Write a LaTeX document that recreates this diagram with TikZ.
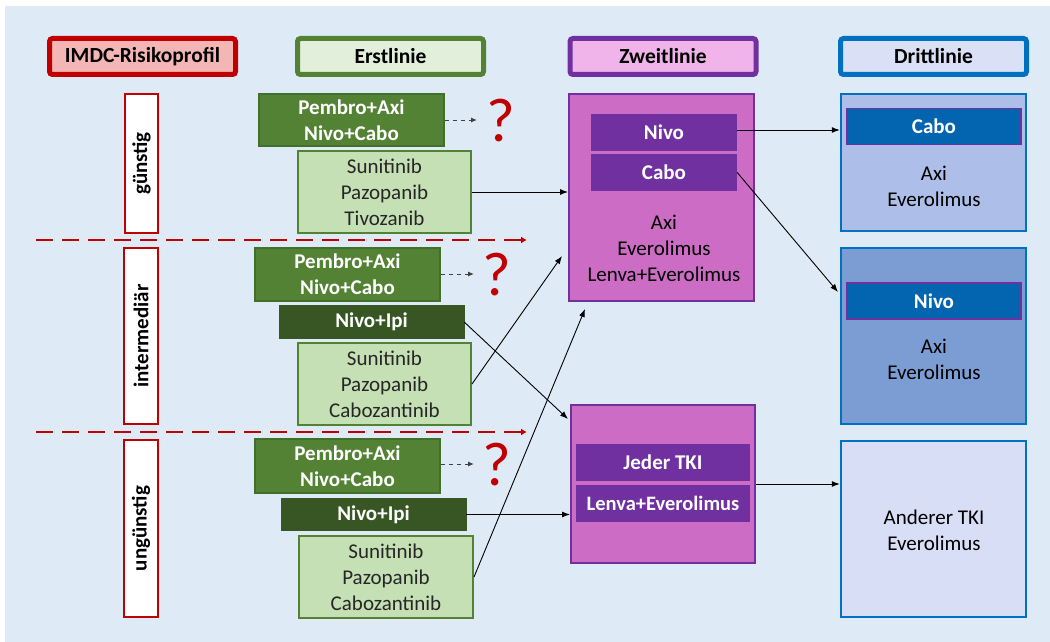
\documentclass[tikz,border=0pt]{standalone}
\usepackage{fontspec}
\setmainfont{Carlito}
\usetikzlibrary{arrows.meta}
\definecolor{bgc}{HTML}{DEEBF7}
\definecolor{rred}{HTML}{C00000}
\definecolor{rpink}{HTML}{F4B6B4}
\definecolor{gmid}{HTML}{548235}
\definecolor{gbord}{HTML}{41702A}
\definecolor{gdark}{HTML}{375623}
\definecolor{glight}{HTML}{C5E0B4}
\definecolor{gpale}{HTML}{E2EFDA}
\definecolor{purp}{HTML}{7030A0}
\definecolor{ppale}{HTML}{F0B3EA}
\definecolor{porch}{HTML}{CC6CC4}
\definecolor{blu}{HTML}{0070C0}
\definecolor{bbord}{HTML}{2E75B6}
\definecolor{bpale}{HTML}{DAE0F6}
\definecolor{bl1}{HTML}{ADBFE8}
\definecolor{bl2}{HTML}{7C9DD3}
\definecolor{bl3}{HTML}{D8DEF6}
\definecolor{binner}{HTML}{0365B0}
\definecolor{txt}{HTML}{262626}
\begin{document}
\begin{tikzpicture}[x=1pt,y=-1pt,
  base/.style={inner sep=0pt, align=center, font=\fontsize{21}{26}\selectfont},
  hdr/.style={base, rounded corners=3pt, line width=5pt, minimum width=186pt, minimum height=36pt, font=\bfseries\fontsize{21.5}{24}\selectfont},
  risk/.style={draw=rred, line width=1.6pt, fill=white},
  risktxt/.style={base, rotate=90, font=\bfseries\fontsize{21}{24}\selectfont},
  dkbox/.style={base, draw=gbord, line width=2pt, fill=gmid, text=white, minimum width=185pt, font=\bfseries\fontsize{21}{26}\selectfont},
  ipibox/.style={base, draw=gdark, fill=gdark, text=white, minimum width=185pt, font=\bfseries\fontsize{21}{26}\selectfont},
  ltbox/.style={base, draw=gmid, line width=2pt, fill=glight, text=txt, minimum width=173pt, minimum height=82pt},
  zbox/.style={base, draw=purp, line width=2pt, fill=porch},
  zin/.style={base, fill=purp, text=white, font=\bfseries\fontsize{21}{26}\selectfont, minimum height=37pt},
  dbox/.style={base, draw=blu, line width=2.5pt, minimum width=185pt},
  din/.style={base, draw=purp, line width=1.5pt, fill=binner, text=white, minimum width=174pt, minimum height=36pt, font=\bfseries\fontsize{21}{26}\selectfont},
  conn/.style={draw=black, line width=0.9pt, -{Latex[length=8pt,width=6pt]}},
  dconn/.style={draw=black!75, line width=1pt, dash pattern=on 4pt off 4pt, -{Latex[length=6pt,width=5pt]}},
  sep/.style={draw=rred, line width=2.5pt, dash pattern=on 17pt off 9pt, -{Latex[length=6pt,width=7pt]}},
  qm/.style={base, text=rred, font=\fontsize{62}{64}\selectfont}
]
\useasboundingbox (0,0) rectangle (1050,642);
\fill[bgc] (5,6) rectangle (1050,642);

% headers
\node[hdr, draw=rred, fill=rpink] (hImdc) at (142.5,56.5) {IMDC-Risikoprofil};
\node[hdr, draw=gmid, fill=gpale] (hErst) at (390.5,56.5) {Erstlinie};
\node[hdr, draw=purp, fill=ppale] (hZweit) at (663,56.5) {Zweitlinie};
\node[hdr, draw=blu, fill=bpale] (hDritt) at (933.5,56.5) {Drittlinie};

% risk boxes
\node[risk, minimum width=33pt, minimum height=139pt] (r1) at (141.5,163.5) {};
\node[risktxt] (r1t) at (r1) {günstig};
\node[risk, minimum width=34pt, minimum height=176pt] (r2) at (141,336) {};
\node[risktxt] (r2t) at (r2) {intermediär};
\node[risk, minimum width=34pt, minimum height=177pt] (r3) at (141,528.5) {};
\node[risktxt] (r3t) at (r3) {ungünstig};

% separators
\coordinate (s1a) at (36,240); \coordinate (s1b) at (527,240);
\coordinate (s2a) at (36,432); \coordinate (s2b) at (527,432);
\draw[sep] (s1a) -- (s1b);
\draw[sep] (s2a) -- (s2b);

% Erstlinie
\node[dkbox, minimum height=52pt] (g1) at (351.5,120) {Pembro+Axi\\Nivo+Cabo};
\node[ltbox] (g2) at (384.5,192) {Sunitinib\\Pazopanib\\Tivozanib};
\node[dkbox, minimum height=53pt] (i1) at (347.5,274.5) {Pembro+Axi\\Nivo+Cabo};
\node[ipibox, minimum height=33pt] (i2) at (371.5,322) {Nivo+Ipi};
\node[ltbox] (i3) at (384.5,384) {Sunitinib\\Pazopanib\\Cabozantinib};
\node[dkbox, minimum height=54pt] (u1) at (347.5,466) {Pembro+Axi\\Nivo+Cabo};
\node[ipibox, minimum height=32pt] (u2) at (373.5,514.5) {Nivo+Ipi};
\node[ltbox, minimum width=174pt] (u3) at (386,577) {Sunitinib\\Pazopanib\\Cabozantinib};

% question marks
\coordinate (q1e) at (477,120);
\coordinate (q2e) at (474,274);
\coordinate (q3e) at (474,464);
\node[qm] (q1) at (501,121) {?};
\node[qm] (q2) at (497,275) {?};
\node[qm] (q3) at (497,465) {?};
\draw[dconn] (g1.east |- q1e) -- (q1e);
\draw[dconn] (i1.east |- q2e) -- (q2e);
\draw[dconn] (u1.east |- q3e) -- (q3e);

% Zweitlinie
\node[zbox, minimum width=185pt, minimum height=207pt] (z1) at (661.5,197.5) {};
\node[zin, minimum width=146pt] (z1a) at (664,132.5) {Nivo};
\node[zin, minimum width=146pt] (z1b) at (664,172.5) {Cabo};
\node[base] (z1t) at (664,248) {Axi\\Everolimus\\Lenva+Everolimus};
\node[zbox, minimum width=184pt, minimum height=158pt] (z2) at (663,484) {};
\node[zin, minimum width=174pt] (z2a) at (663,462.5) {Jeder TKI};
\node[zin, minimum width=174pt, font=\bfseries\fontsize{20.5}{24}\selectfont] (z2b) at (663,503.5) {Lenva+Everolimus};

% Drittlinie
\node[dbox, fill=bl1, minimum height=137pt] (d1) at (933.5,162.5) {};
\node[din] (d1a) at (934,126.5) {Cabo};
\node[base] (d1t) at (934,186) {Axi\\Everolimus};
\node[dbox, fill=bl2, minimum height=176pt] (d2) at (933.5,336) {};
\node[din] (d2a) at (934,301) {Nivo};
\node[base] (d2t) at (934,359.5) {Axi\\Everolimus};
\node[dbox, fill=bl3, minimum height=176pt] (d3) at (933.5,529) {};
\node[base] (d3t) at (934,530) {Anderer TKI\\Everolimus};

% connectors
\coordinate (c2) at (562,256);
\coordinate (c3) at (585,309);
\coordinate (c4) at (568,419);
\coordinate (c7) at (838,292);
\draw[conn] (g2.east |- 0,192) -- (z1.west |- 0,192);
\draw[conn] (i3.east) -- (c2);
\draw[conn] (u3.east) -- (c3);
\draw[conn] (i2.east) -- (c4);
\draw[conn] (u2.east) -- (z2.west |- u2.east);
\draw[conn] (z1a.east |- 0,130) -- (d1.west |- 0,130);
\draw[conn] (z1b.east) -- (c7);
\draw[conn] (z2.east) -- (d3.west |- z2.east);
\end{tikzpicture}
\end{document}
